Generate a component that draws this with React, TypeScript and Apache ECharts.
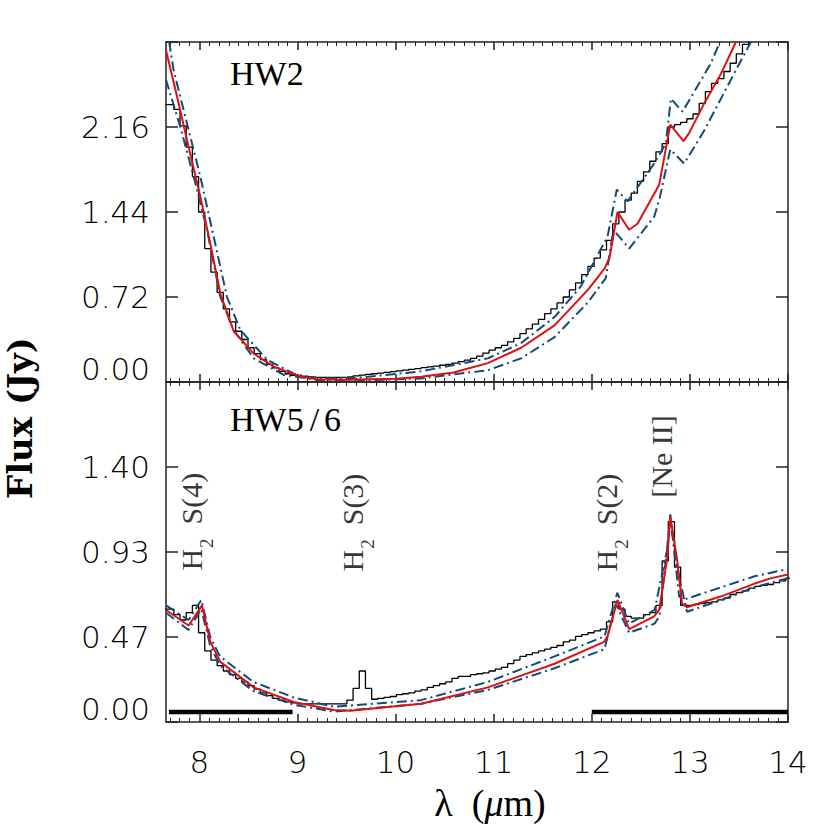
import React, { useEffect, useRef } from 'react';
import * as echarts from 'echarts';

// ---------------- data ----------------
const X_MIN = 7.66;
const X_MAX = 14;
const xMajorTicks = [8, 9, 10, 11, 12, 13, 14];

const hw2TickValues = [0, 0.72, 1.44, 2.16, 2.88];
const hw2LabelValues = [0, 0.72, 1.44, 2.16];
const hw56TickValues = [0, 1.4 / 3, 2.8 / 3, 1.4, 5.6 / 3];
const hw56LabelValues = [0, 1.4 / 3, 2.8 / 3, 1.4];

// left edges of the spectral bins (last entry closes the last bin)
const binEdges = [
  7.614, 7.677, 7.740, 7.803, 7.866, 7.929, 7.992, 8.055, 8.118, 8.181,
  8.244, 8.307, 8.370, 8.433, 8.496, 8.559, 8.622, 8.685, 8.748, 8.811,
  8.874, 8.937, 9.000, 9.063, 9.126, 9.189, 9.252, 9.315, 9.378, 9.441,
  9.504, 9.567, 9.630, 9.693, 9.756, 9.819, 9.882, 9.945, 10.008, 10.071,
  10.134, 10.197, 10.260, 10.323, 10.386, 10.449, 10.512, 10.575, 10.638, 10.701,
  10.764, 10.827, 10.890, 10.953, 11.016, 11.079, 11.142, 11.205, 11.268, 11.331,
  11.394, 11.457, 11.520, 11.583, 11.646, 11.709, 11.772, 11.835, 11.898, 11.961,
  12.024, 12.087, 12.150, 12.213, 12.276, 12.339, 12.402, 12.465, 12.528, 12.591,
  12.654, 12.717, 12.780, 12.843, 12.906, 12.969, 13.032, 13.095, 13.158, 13.221,
  13.284, 13.347, 13.410, 13.473, 13.536, 13.599, 13.662, 13.725, 13.788, 13.851,
  13.914, 13.977, 14.040,
];

// observed binned spectrum, HW2
const hw2Observed = [
  2.35, 2.35, 2.31, 2.17, 1.99, 1.74, 1.44, 1.13, 0.93, 0.76,
  0.62, 0.51, 0.43, 0.36, 0.29, 0.24, 0.19, 0.15, 0.12, 0.09,
  0.07, 0.057, 0.05, 0.045, 0.042, 0.040, 0.040, 0.040, 0.040, 0.041,
  0.045, 0.052, 0.058, 0.064, 0.070, 0.076, 0.082, 0.088, 0.094, 0.100,
  0.107, 0.114, 0.121, 0.128, 0.135, 0.142, 0.150, 0.160, 0.172, 0.185,
  0.200, 0.220, 0.245, 0.27, 0.29, 0.31, 0.34, 0.37, 0.41, 0.45,
  0.49, 0.53, 0.58, 0.62, 0.67, 0.72, 0.78, 0.84, 0.91, 0.98,
  1.05, 1.12, 1.20, 1.34, 1.44, 1.54, 1.60, 1.70, 1.78, 1.87,
  1.95, 2.02, 2.16, 2.18, 2.20, 2.23, 2.27, 2.36, 2.46, 2.53,
  2.57, 2.63, 2.70, 2.78, 2.86, 2.95, 3.05, 3.15, 3.25, 3.35,
  3.45, 3.55,
];

// observed binned spectrum, HW5/6
const hw56Observed = [
  0.62, 0.62, 0.59, 0.56, 0.60, 0.64, 0.49, 0.39, 0.34, 0.31,
  0.28, 0.26, 0.24, 0.22, 0.20, 0.18, 0.16, 0.145, 0.13, 0.12,
  0.11, 0.105, 0.10, 0.10, 0.10, 0.10, 0.10, 0.10, 0.10, 0.10,
  0.12, 0.185, 0.28, 0.185, 0.125, 0.13, 0.135, 0.14, 0.15, 0.155,
  0.16, 0.17, 0.176, 0.19, 0.20, 0.21, 0.22, 0.24, 0.25, 0.25,
  0.26, 0.265, 0.27, 0.28, 0.29, 0.30, 0.32, 0.34, 0.36, 0.37,
  0.38, 0.39, 0.40, 0.41, 0.42, 0.44, 0.45, 0.47, 0.48, 0.49,
  0.50, 0.51, 0.55, 0.66, 0.62, 0.58, 0.57, 0.57, 0.59, 0.60,
  0.64, 0.885, 1.10, 0.85, 0.64, 0.64, 0.645, 0.65, 0.655, 0.66,
  0.67, 0.68, 0.70, 0.71, 0.72, 0.735, 0.745, 0.75, 0.755, 0.765,
  0.775, 0.79,
];

// HW2 model (red) and its upper / lower bounds (dash-dot)
const hw2ModelX = [7.66, 7.772, 7.874, 8.010, 8.112, 8.214, 8.350, 8.554, 8.758, 9.031, 9.201, 9.5, 10.0, 10.26, 10.59, 10.94, 11.28, 11.62, 11.96, 12.13, 12.18, 12.262, 12.381, 12.466, 12.687, 12.80, 12.935, 12.993, 13.146, 13.316, 13.469, 13.6];
const hw2ModelY = [2.81, 2.42, 2.05, 1.57, 1.17, 0.75, 0.43, 0.24, 0.13, 0.045, 0.023, 0.02, 0.028, 0.045, 0.08, 0.16, 0.29, 0.48, 0.78, 0.96, 1.05, 1.44, 1.29, 1.34, 1.67, 2.18, 2.04, 2.11, 2.36, 2.61, 2.88, 3.1];

const hw2UpperX = [7.66, 7.738, 7.874, 8.010, 8.146, 8.282, 8.418, 8.690, 8.962, 9.200, 9.6, 10.26, 10.94, 11.28, 11.62, 11.888, 12.16, 12.255, 12.364, 12.636, 12.755, 12.806, 12.925, 13.214, 13.30, 13.4];
const hw2UpperY = [3.05, 2.64, 2.19, 1.74, 1.23, 0.72, 0.44, 0.19, 0.07, 0.03, 0.035, 0.09, 0.20, 0.33, 0.55, 0.81, 1.23, 1.63, 1.53, 1.85, 2.02, 2.40, 2.29, 2.70, 2.87, 3.1];

const hw2LowerX = [7.66, 7.806, 7.942, 8.078, 8.214, 8.350, 8.554, 8.860, 9.200, 9.6, 10.26, 10.94, 11.28, 11.62, 11.956, 12.143, 12.22, 12.381, 12.636, 12.69, 12.80, 12.942, 13.146, 13.487, 13.622, 13.8];
const hw2LowerY = [2.56, 2.16, 1.74, 1.29, 0.72, 0.44, 0.20, 0.06, 0.017, 0.012, 0.03, 0.10, 0.20, 0.38, 0.67, 0.88, 1.29, 1.13, 1.40, 1.55, 1.97, 1.85, 2.13, 2.67, 2.88, 3.15];

// HW5/6 model (red) and its upper / lower bounds (dash-dot)
const hw56ModelX = [7.66, 7.891, 8.027, 8.112, 8.214, 8.554, 8.962, 9.37, 9.54, 10.26, 10.94, 11.62, 12.126, 12.16, 12.262, 12.381, 12.636, 12.687, 12.772, 12.80, 12.87, 12.92, 12.97, 13.32, 13.66, 13.83, 14.0];
const hw56ModelY = [0.615, 0.53, 0.64, 0.44, 0.33, 0.19, 0.11, 0.066, 0.062, 0.10, 0.19, 0.32, 0.44, 0.47, 0.67, 0.51, 0.58, 0.615, 0.91, 1.13, 0.89, 0.65, 0.63, 0.69, 0.76, 0.79, 0.81];

const hw56UpperX = [7.66, 7.89, 8.02, 8.11, 8.21, 8.55, 8.96, 9.37, 10.26, 10.94, 11.62, 12.13, 12.26, 12.38, 12.64, 12.77, 12.80, 12.89, 12.93, 13.32, 13.66, 14.0];
const hw56UpperY = [0.64, 0.56, 0.67, 0.47, 0.36, 0.22, 0.135, 0.084, 0.12, 0.22, 0.36, 0.47, 0.71, 0.54, 0.615, 0.95, 1.14, 0.69, 0.67, 0.74, 0.80, 0.84];

const hw56LowerX = [7.66, 7.89, 8.02, 8.11, 8.21, 8.55, 8.96, 9.37, 10.26, 10.94, 11.62, 12.13, 12.245, 12.38, 12.64, 12.69, 12.80, 12.87, 12.97, 13.32, 13.66, 14.0];
const hw56LowerY = [0.60, 0.505, 0.62, 0.42, 0.31, 0.17, 0.095, 0.057, 0.10, 0.176, 0.295, 0.40, 0.65, 0.49, 0.54, 0.58, 1.11, 0.85, 0.605, 0.67, 0.74, 0.79];

// filter passbands (thick bars)
const band1X = [7.69, 8.95];
const band2X = [12.0, 14.0];
const bandLevel = 0.055;

// line annotations
const lineLabels = [
  { x: 7.923, y: 1.10, text: '{h|H}{s|2}{t|S(4)}' },
  { x: 9.561, y: 1.095, text: '{h|H}{s|2}{t|S(3)}' },
  { x: 12.146, y: 1.095, text: '{h|H}{s|2}{t|S(2)}' },
  { x: 12.714, y: 1.458, text: '{n|[Ne II]}' },
];

// ---------------- helpers ----------------
const RED = '#dd1111';
const BLUE = '#134a78';
const AXIS = '#222';
const DASHDOT = [10, 4, 2, 4];
const TICK_FONT = '"DejaVu Sans", sans-serif';
const SERIF = '"Liberation Serif", "Times New Roman", serif';

const zip = (xs: number[], ys: number[]) => xs.map((x, i) => [x, ys[i]]);
const stepData = (edges: number[], vals: number[]) => {
  const d = vals.map((v, i) => [edges[i], v]);
  d.push([edges[vals.length], vals[vals.length - 1]]);
  return d;
};

const minorTicks: number[] = [];
for (let i = 77; i <= 139; i++) {
  if (i % 10 !== 0) minorTicks.push(i / 10);
}

function makeXAxes(gridIndex: number, withLabels: boolean) {
  const base = {
    type: 'value' as const,
    gridIndex,
    min: X_MIN,
    max: X_MAX,
    splitLine: { show: false },
  };
  const line = { show: true, onZero: false, lineStyle: { color: AXIS, width: 1.5 } };
  const noLine = { show: false, onZero: false };
  return [
    {
      ...base,
      position: 'bottom',
      axisLine: line,
      axisTick: { show: true, inside: true, length: 8, customValues: xMajorTicks, lineStyle: { color: AXIS, width: 1.5 } },
      axisLabel: withLabels
        ? { show: true, customValues: xMajorTicks, margin: 24, fontSize: 31, fontFamily: TICK_FONT, fontWeight: 200, color: '#000', formatter: (v: number) => String(v) }
        : { show: false },
    },
    {
      ...base,
      position: 'bottom',
      axisLine: noLine,
      axisTick: { show: true, inside: true, length: 4, customValues: minorTicks, lineStyle: { color: AXIS, width: 1 } },
      axisLabel: { show: false },
    },
    {
      ...base,
      position: 'top',
      axisLine: line,
      axisTick: { show: true, inside: true, length: 8, customValues: xMajorTicks, lineStyle: { color: AXIS, width: 1.5 } },
      axisLabel: { show: false },
    },
    {
      ...base,
      position: 'top',
      axisLine: noLine,
      axisTick: { show: true, inside: true, length: 4, customValues: minorTicks, lineStyle: { color: AXIS, width: 1 } },
      axisLabel: { show: false },
    },
  ];
}

function makeYAxes(gridIndex: number, max: number, ticks: number[], labels: number[]) {
  const base = {
    type: 'value' as const,
    gridIndex,
    min: 0,
    max,
    splitLine: { show: false },
    axisLine: { show: true, onZero: false, lineStyle: { color: AXIS, width: 1.5 } },
    axisTick: { show: true, inside: true, length: 12, customValues: ticks, lineStyle: { color: AXIS, width: 1.5 } },
  };
  return [
    {
      ...base,
      position: 'left',
      axisLabel: {
        show: true,
        customValues: labels,
        margin: 16,
        fontSize: 31,
        fontFamily: TICK_FONT,
        fontWeight: 200,
        color: '#000',
        formatter: (v: number) => (Math.abs(v) < 1e-9 ? '{z|0.00}' : v.toFixed(2)),
        rich: {
          z: { fontSize: 31, fontFamily: TICK_FONT, fontWeight: 200, color: '#000', padding: [0, 0, 26, 0] },
        },
      },
    },
    {
      ...base,
      position: 'right',
      axisLabel: { show: false },
    },
  ];
}

function spectrumSeries(xAxisIndex: number, yAxisIndex: number, obs: number[], mX: number[], mY: number[], uX: number[], uY: number[], lX: number[], lY: number[]) {
  const common = { type: 'line' as const, xAxisIndex, yAxisIndex, symbol: 'none', clip: true, silent: true };
  return [
    { ...common, step: 'end', data: stepData(binEdges, obs), lineStyle: { color: '#000', width: 1.3 }, z: 2 },
    { ...common, data: zip(uX, uY), lineStyle: { color: BLUE, width: 2, type: DASHDOT }, z: 3 },
    { ...common, data: zip(lX, lY), lineStyle: { color: BLUE, width: 2, type: DASHDOT }, z: 3 },
    { ...common, data: zip(mX, mY), lineStyle: { color: RED, width: 2 }, z: 4 },
  ];
}

export default function App() {
  const ref = useRef<HTMLDivElement>(null);

  useEffect(() => {
    if (!ref.current) return;
    const chart = echarts.init(ref.current, undefined, { renderer: 'svg' });

    const option: any = {
      animation: false,
      backgroundColor: '#ffffff',
      grid: [
        { left: 166, top: 42, width: 622, height: 340 },
        { left: 166, top: 382, width: 622, height: 340 },
      ],
      xAxis: [...makeXAxes(0, false), ...makeXAxes(1, true)],
      yAxis: [
        ...makeYAxes(0, 2.88, hw2TickValues, hw2LabelValues),
        ...makeYAxes(1, 5.6 / 3, hw56TickValues, hw56LabelValues),
      ],
      series: [
        ...spectrumSeries(0, 0, hw2Observed, hw2ModelX, hw2ModelY, hw2UpperX, hw2UpperY, hw2LowerX, hw2LowerY),
        ...spectrumSeries(4, 2, hw56Observed, hw56ModelX, hw56ModelY, hw56UpperX, hw56UpperY, hw56LowerX, hw56LowerY),
        {
          type: 'line', xAxisIndex: 4, yAxisIndex: 2, symbol: 'none', silent: true,
          data: band1X.map((x) => [x, bandLevel]),
          lineStyle: { color: '#000', width: 4.5 }, z: 5,
        },
        {
          type: 'line', xAxisIndex: 4, yAxisIndex: 2, symbol: 'none', silent: true,
          data: band2X.map((x) => [x, bandLevel]),
          lineStyle: { color: '#000', width: 4.5 }, z: 5,
        },
        {
          type: 'scatter', xAxisIndex: 4, yAxisIndex: 2, symbol: 'circle', symbolSize: 1, silent: true,
          itemStyle: { color: 'rgba(0,0,0,0)' },
          data: lineLabels.map((l) => ({
            value: [l.x, l.y],
            label: { show: true, formatter: l.text },
          })),
          label: {
            show: true,
            position: 'inside',
            rotate: 90,
            color: '#000',
            rich: {
              h: { fontSize: 30, fontFamily: SERIF, color: '#000', lineHeight: 30 },
              s: { fontSize: 19, fontFamily: SERIF, color: '#000', lineHeight: 19, padding: [30, 0, 0, 1] },
              t: { fontSize: 30, fontFamily: SERIF, color: '#000', lineHeight: 30, padding: [0, 0, 0, 14] },
              n: { fontSize: 30, fontFamily: SERIF, color: '#000', lineHeight: 30 },
            },
          },
          z: 6,
        },
      ],
      graphic: [
        {
          type: 'text', x: 230, y: 73, silent: true,
          style: { text: 'HW2', font: `34px ${SERIF}`, fill: '#000', verticalAlign: 'middle' },
        },
        {
          type: 'text', x: 230, y: 419, silent: true,
          style: {
            text: '{a|HW5}{b|/}{a|6}',
            verticalAlign: 'middle',
            rich: {
              a: { fontSize: 34, fontFamily: SERIF, fill: '#000' },
              b: { fontSize: 34, fontFamily: SERIF, fill: '#000', padding: [0, 5, 0, 6] },
            },
          },
        },
        {
          type: 'text', x: 20, y: 418, rotation: Math.PI / 2, silent: true,
          style: { text: 'Flux (Jy)', font: 'bold 34px "DejaVu Serif", serif', fill: '#000', align: 'center', verticalAlign: 'middle' },
        },
        {
          type: 'text', x: 490, y: 803, silent: true,
          style: {
            text: '{a|λ  (}{b|μ}{a|m)}',
            align: 'center',
            verticalAlign: 'middle',
            rich: {
              a: { fontSize: 38, fontFamily: SERIF, fill: '#000' },
              b: { fontSize: 38, fontFamily: SERIF, fontStyle: 'italic', fill: '#000' },
            },
          },
        },
      ],
    };

    chart.setOption(option);
    return () => chart.dispose();
  }, []);

  return (
    <div
      ref={ref}
      style={{ position: 'fixed', left: 0, top: 0, width: 830, height: 830, background: '#fff' }}
    />
  );
}
